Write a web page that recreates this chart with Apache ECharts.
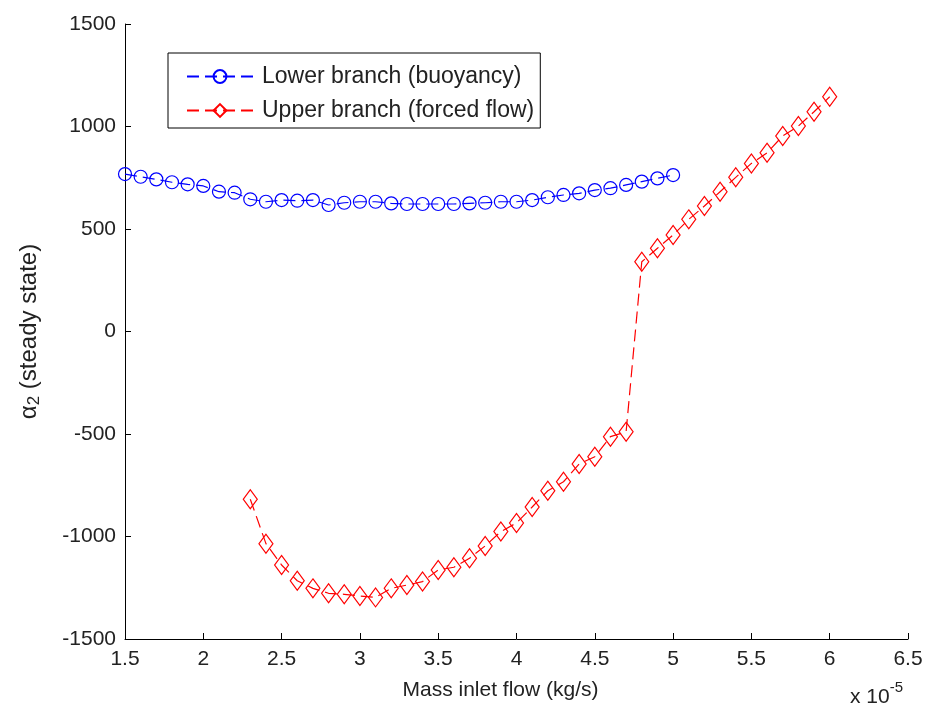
<!DOCTYPE html>
<html>
<head>
<meta charset="utf-8">
<script src="https://cdn.jsdelivr.net/npm/echarts@6/dist/echarts.min.js"></script>
<style>
html,body{margin:0;padding:0;background:#fff;}
#chart{width:926px;height:715px;}
</style>
</head>
<body>
<div id="chart"></div>
<script>
// Data (x in units of 1e-5 kg/s)
var lowerX = [1.5,1.6,1.7,1.8,1.9,2.0,2.1,2.2,2.3,2.4,2.5,2.6,2.7,2.8,2.9,3.0,3.1,3.2,3.3,3.4,3.5,3.6,3.7,3.8,3.9,4.0,4.1,4.2,4.3,4.4,4.5,4.6,4.7,4.8,4.9,5.0];
var lowerY = [768,755,742,728,718,710,682,677,645,633,641,638,641,617,628,633,633,625,622,622,622,622,625,628,633,633,641,655,666,674,690,699,715,731,747,763];
var upperX = [2.3,2.4,2.5,2.6,2.7,2.8,2.9,3.0,3.1,3.2,3.3,3.4,3.5,3.6,3.7,3.8,3.9,4.0,4.1,4.2,4.3,4.4,4.5,4.6,4.7,4.8,4.9,5.0,5.1,5.2,5.3,5.4,5.5,5.6,5.7,5.8,5.9,6.0];
var upperY = [-818,-1035,-1139,-1216,-1253,-1277,-1282,-1290,-1297,-1253,-1237,-1220,-1163,-1150,-1106,-1046,-976,-934,-856,-777,-733,-646,-611,-513,-489,340,406,471,547,612,682,752,820,872,954,1002,1072,1145];
var seriesNames = ['Lower branch (buoyancy)', 'Upper branch (forced flow)'];
var xTicks = {min: 1.5, max: 6.5, interval: 0.5};
var yTicks = {min: -1500, max: 1500, interval: 500};

function pairs(xs, ys){ return xs.map(function(x,i){ return [x, ys[i]]; }); }

var FONT = 'Liberation Sans';
var TXT = '#222';
var chart = echarts.init(document.getElementById('chart'), null, {renderer:'canvas'});
chart.setOption({
  animation: false,
  backgroundColor: '#fff',
  textStyle: {fontFamily: FONT, color: TXT},
  grid: {left: 125, right: 18, top: 24, bottom: 76, containLabel: false},
  xAxis: {
    type: 'value', min: xTicks.min, max: xTicks.max, interval: xTicks.interval,
    name: 'Mass inlet flow (kg/s)', nameLocation: 'middle', nameGap: 41,
    nameTextStyle: {fontSize: 21, color: TXT, fontFamily: FONT, padding: [0, 32, 0, 0]},
    axisLine: {onZero: false, lineStyle: {color: '#000', width: 1}},
    axisTick: {inside: true, length: 6, lineStyle: {color: '#000'}},
    axisLabel: {fontSize: 21, color: TXT, margin: 10, fontFamily: FONT,
      formatter: function(v){ return String(v); }},
    splitLine: {show: false}
  },
  yAxis: {
    type: 'value', min: yTicks.min, max: yTicks.max, interval: yTicks.interval,
    name: '{a|α}{b|2}{a| (steady state)}', nameLocation: 'middle', nameGap: 82, nameRotate: 90,
    nameTextStyle: {fontSize: 24, color: TXT, fontFamily: FONT,
      rich: {
        a: {fontSize: 24, fontFamily: FONT, color: TXT, lineHeight: 28},
        b: {fontSize: 17, fontFamily: FONT, color: TXT, lineHeight: 28, verticalAlign: 'bottom', padding: [9, 0, 0, 0]}
      }},
    axisLine: {onZero: false, lineStyle: {color: '#000', width: 1}},
    axisTick: {inside: true, length: 6, lineStyle: {color: '#000'}},
    axisLabel: {fontSize: 21, color: TXT, margin: 9, fontFamily: FONT,
      formatter: function(v){ return String(v); }},
    splitLine: {show: false}
  },
  legend: {
    orient: 'vertical', left: 168, top: 53,
    backgroundColor: '#fff', borderColor: '#000', borderWidth: 1,
    padding: [12, 6, 6, 18],
    itemWidth: 66, itemHeight: 16, itemGap: 11,
    textStyle: {fontSize: 23, color: TXT, fontFamily: FONT, padding: [0, 0, 0, 4]},
    data: seriesNames
  },
  series: [
    {
      name: seriesNames[0], type: 'line', data: pairs(lowerX, lowerY),
      symbol: 'circle', symbolSize: 13,
      lineStyle: {color: '#0000ff', width: 1.2, type: [12, 6]},
      itemStyle: {color: 'rgba(0,0,0,0)', borderColor: '#0000ff', borderWidth: 1.2},
      color: '#0000ff'
    },
    {
      name: seriesNames[1], type: 'line', data: pairs(upperX, upperY),
      symbol: 'diamond', symbolSize: [14, 19],
      lineStyle: {color: '#ff0000', width: 1.2, type: [12, 6]},
      itemStyle: {color: 'rgba(0,0,0,0)', borderColor: '#ff0000', borderWidth: 1.2},
      color: '#ff0000'
    }
  ],
  graphic: [
    {
      type: 'text', left: 850, top: 680,
      style: {
        text: '{a|x 10}{s|-5}',
        rich: {
          a: {fontSize: 21, fontFamily: FONT, fill: TXT, padding: [10,0,0,0]},
          s: {fontSize: 15, fontFamily: FONT, fill: TXT, padding: [0,0,10,0]}
        }
      }
    }
  ]
});
</script>
</body>
</html>
